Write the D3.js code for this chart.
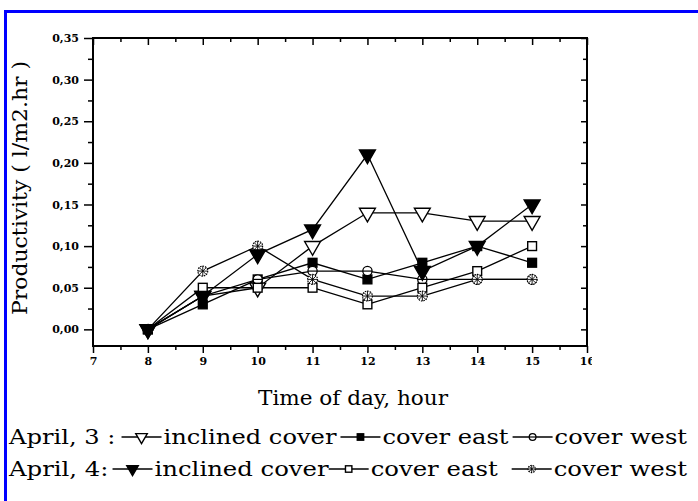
<!DOCTYPE html>
<html>
<head>
<meta charset="utf-8">
<script src="https://cdn.jsdelivr.net/npm/d3@7"></script>
<style>
  html, body { margin: 0; padding: 0; background: #fff; }
  svg { display: block; }
</style>
</head>
<body>
<div id="chart"></div>
<script>
// ---- data ----
const hours = [8, 9, 10, 11, 12, 13, 14, 15];
const apr3Inclined = [0, 0.04, 0.05, 0.10, 0.14, 0.14, 0.13, 0.13];
const apr3East     = [0, 0.03, 0.06, 0.08, 0.06, 0.08, 0.10, 0.08];
const apr3West     = [0, 0.04, 0.06, 0.07, 0.07, 0.06, 0.06, 0.06];
const apr4Inclined = [0, 0.04, 0.09, 0.12, 0.21, 0.07, 0.10, 0.15];
const apr4East     = [0, 0.05, 0.05, 0.05, 0.03, 0.05, 0.07, 0.10];
const apr4West     = [0, 0.07, 0.10, 0.06, 0.04, 0.04, 0.06, 0.06];
const xTicks = [7, 8, 9, 10, 11, 12, 13, 14, 15, 16];
const yTicks = [0, 0.05, 0.10, 0.15, 0.20, 0.25, 0.30, 0.35];
const xTitle = "Time of day, hour";
const yTitle = "Productivity ( l/m2.hr )";
const legendRow1 = ["April, 3 :", "inclined cover", "cover east", "cover west"];
const legendRow2 = ["April, 4:", "inclined cover", "cover east", "cover west"];

const series = [
  { name: "apr3Inclined", values: apr3Inclined, marker: "triOpen" },
  { name: "apr3East",     values: apr3East,     marker: "sqFilled" },
  { name: "apr3West",     values: apr3West,     marker: "circBar" },
  { name: "apr4East",     values: apr4East,     marker: "sqOpen" },
  { name: "apr4West",     values: apr4West,     marker: "circStar" },
  { name: "apr4Inclined", values: apr4Inclined, marker: "triFilled" }
];

const W = 698, H = 501;
const svg = d3.select("#chart").append("svg").attr("width", W).attr("height", H);

// blue frame
svg.append("line").attr("x1", 5.5).attr("x2", 5.5).attr("y1", 10).attr("y2", 501)
  .attr("stroke", "#0000ff").attr("stroke-width", 3);
svg.append("line").attr("x1", 4).attr("x2", 698).attr("y1", 11.5).attr("y2", 11.5)
  .attr("stroke", "#0000ff").attr("stroke-width", 3);

const x = d3.scaleLinear().domain([7, 16]).range([93, 587]);
const y = d3.scaleLinear().domain([-0.02, 0.35]).range([346, 38]);

const fmtY = d => d3.format(".2f")(d).replace(".", ",");
const tickFont = "DejaVu Serif";
const textFont = "DejaVu Serif";

function styleAxis(g) {
  g.select(".domain").remove();
  g.selectAll("line").attr("stroke", "#000").attr("stroke-width", 1.5);
  g.selectAll("text").attr("font-family", tickFont).attr("font-weight", "bold")
    .attr("font-size", 11).attr("fill", "#000");
}

const xMinor = d3.range(7.5, 16, 1);
const yMinor = d3.range(0.025, 0.35, 0.05);

// bottom axis
const clip = svg.append("clipPath").attr("id", "xclip");
clip.append("rect").attr("x", 0).attr("y", 0).attr("width", 592).attr("height", 501);
svg.append("g").attr("transform", "translate(0,346)").attr("clip-path", "url(#xclip)")
  .call(d3.axisBottom(x).tickValues(xTicks).tickSize(7).tickPadding(4).tickFormat(d3.format("d")))
  .call(styleAxis);
svg.append("g").attr("transform", "translate(0,346)")
  .call(d3.axisBottom(x).tickValues(xMinor).tickSize(4).tickFormat(""))
  .call(styleAxis);
// top axis (inward)
svg.append("g").attr("transform", "translate(0,38)")
  .call(d3.axisBottom(x).tickValues(xTicks).tickSize(7).tickFormat(""))
  .call(styleAxis);
svg.append("g").attr("transform", "translate(0,38)")
  .call(d3.axisBottom(x).tickValues(xMinor).tickSize(4).tickFormat(""))
  .call(styleAxis);
// left axis
svg.append("g").attr("transform", "translate(93,0)")
  .call(d3.axisLeft(y).tickValues(yTicks).tickSize(9).tickPadding(5).tickFormat(fmtY))
  .call(styleAxis);
svg.append("g").attr("transform", "translate(93,0)")
  .call(d3.axisLeft(y).tickValues(yMinor).tickSize(5).tickFormat(""))
  .call(styleAxis);
// right axis (inward)
svg.append("g").attr("transform", "translate(587,0)")
  .call(d3.axisLeft(y).tickValues(yTicks).tickSize(6).tickFormat(""))
  .call(styleAxis);
svg.append("g").attr("transform", "translate(587,0)")
  .call(d3.axisLeft(y).tickValues(yMinor).tickSize(4).tickFormat(""))
  .call(styleAxis);

// plot frame
svg.append("rect").attr("x", x(7)).attr("y", y(0.35))
  .attr("width", x(16) - x(7)).attr("height", y(-0.02) - y(0.35))
  .attr("fill", "none").attr("stroke", "#000").attr("stroke-width", 2);

// lines
const line = d3.line().x((d, i) => x(hours[i])).y(d => y(d));
const plot = svg.append("g");
series.forEach(s => {
  plot.append("path").datum(s.values).attr("d", line)
    .attr("fill", "none").attr("stroke", "#000").attr("stroke-width", 1.3);
});

// markers
function drawMarker(g, type, cx, cy, size) {
  const s = size;
  if (type === "triOpen" || type === "triFilled") {
    g.append("path")
      .attr("d", d3.symbol().type(d3.symbolTriangle).size(s * s * 0.9)())
      .attr("transform", `translate(${cx},${cy}) rotate(180)`)
      .attr("fill", type === "triFilled" ? "#000" : "#fff")
      .attr("stroke", "#000").attr("stroke-width", 1.4);
  } else if (type === "sqOpen" || type === "sqFilled") {
    const h = s * 0.8;
    g.append("rect").attr("x", cx - h / 2).attr("y", cy - h / 2).attr("width", h).attr("height", h)
      .attr("fill", type === "sqFilled" ? "#000" : "#fff")
      .attr("stroke", "#000").attr("stroke-width", 1.4);
  } else if (type === "circBar") {
    const r = s * 0.42;
    g.append("circle").attr("cx", cx).attr("cy", cy).attr("r", r)
      .attr("fill", "#fff").attr("stroke", "#000").attr("stroke-width", 1.3);
    g.append("line").attr("x1", cx - r).attr("x2", cx + r).attr("y1", cy).attr("y2", cy)
      .attr("stroke", "#000").attr("stroke-width", 1.2);
  } else if (type === "circStar") {
    const r = s * 0.45;
    g.append("circle").attr("cx", cx).attr("cy", cy).attr("r", r)
      .attr("fill", "#fff").attr("stroke", "#000").attr("stroke-width", 1.2)
      .attr("stroke-dasharray", "1.5,1");
    const k = r * 0.7;
    [[-k, -k, k, k], [-k, k, k, -k], [-r, 0, r, 0], [0, -r, 0, r]].forEach(p => {
      g.append("line").attr("x1", cx + p[0]).attr("y1", cy + p[1])
        .attr("x2", cx + p[2]).attr("y2", cy + p[3])
        .attr("stroke", "#000").attr("stroke-width", 0.9);
    });
  }
}

series.forEach(s => {
  s.values.forEach((v, i) => drawMarker(plot, s.marker, x(hours[i]), y(v), 11));
});

// axis titles
svg.append("text").attr("x", 353).attr("y", 405).attr("text-anchor", "middle")
  .attr("font-family", textFont).attr("font-size", 20).attr("fill", "#000")
  .attr("textLength", 190).attr("lengthAdjust", "spacingAndGlyphs")
  .text(xTitle);
svg.append("text").attr("transform", "translate(27,188) rotate(-90)").attr("text-anchor", "middle")
  .attr("font-family", textFont).attr("font-size", 21).attr("fill", "#000")
  .attr("textLength", 254).attr("lengthAdjust", "spacingAndGlyphs")
  .text(yTitle);

// legend rows laid out left to right, stretched to the reference width
const legendRows = [
  { y: 444, labels: legendRow1, markers: ["triOpen", "sqFilled", "circBar"], gaps: [6, 4, 4], x0: 9, x1: 687 },
  { y: 476, labels: legendRow2, markers: ["triFilled", "sqOpen", "circStar"], gaps: [4, 0, 14], x0: 9, x1: 687 }
];
const markW = 40, fs = 21;
legendRows.forEach(row => {
  const g = svg.append("g");
  const texts = row.labels.map(t => g.append("text")
    .attr("font-family", textFont).attr("font-size", fs).attr("fill", "#000").attr("y", row.y).text(t));
  const widths = texts.map(t => t.node().getComputedTextLength());
  const fixed = row.markers.length * markW + d3.sum(row.gaps) + row.markers.length * 2;
  const k = (row.x1 - row.x0 - fixed) / d3.sum(widths);
  let cx = row.x0;
  texts.forEach((t, i) => {
    const w = widths[i] * k;
    t.attr("x", cx).attr("textLength", w).attr("lengthAdjust", "spacingAndGlyphs");
    cx += w;
    if (i < row.markers.length) {
      cx += row.gaps[i];
      const ly = row.y - 7;
      g.append("line").attr("x1", cx).attr("x2", cx + markW).attr("y1", ly).attr("y2", ly)
        .attr("stroke", "#000").attr("stroke-width", 1.5);
      drawMarker(g, row.markers[i], cx + markW / 2, ly, 8);
      cx += markW + 2;
    }
  });
});
</script>
</body>
</html>
